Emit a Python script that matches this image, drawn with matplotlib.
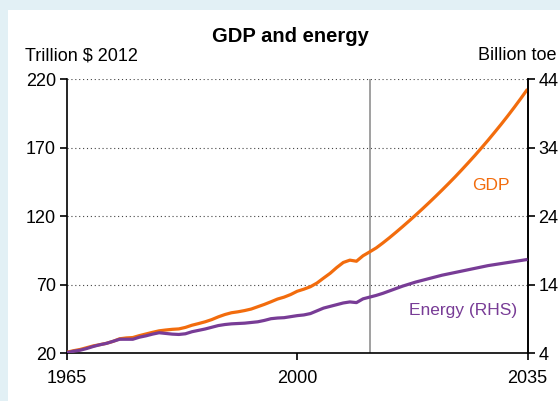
import matplotlib
matplotlib.use("Agg")
import matplotlib.pyplot as plt
from matplotlib.patches import Rectangle

plt.rcParams['font.family'] = ['Liberation Sans', 'DejaVu Sans']

# historical + projection, one value per year
years = list(range(1965, 2036))
gdp = [20.8, 21.9, 22.8, 24.1, 25.4, 26.3, 27.3, 28.7, 30.6, 31.2,
       31.5, 32.9, 34.1, 35.3, 36.4, 37.0, 37.5, 37.8, 38.9, 40.5,
       41.7, 43.0, 44.6, 46.6, 48.3, 49.6, 50.3, 51.2, 52.3, 54.0,
       55.7, 57.6, 59.6, 61.0, 62.9, 65.3, 66.8, 68.6, 71.3, 74.9,
       78.4, 82.6, 86.3, 88.0, 87.2, 91.2, 94.0, 96.9, 100.5, 104.3,
       108.3, 112.4, 116.6, 120.9, 125.3, 129.8, 134.4, 139.1, 143.9, 148.8,
       153.9, 159.1, 164.4, 169.9, 175.5, 181.3, 187.2, 193.3, 199.6, 206.1,
       212.8]
energy = [4.1, 4.3, 4.45, 4.7, 5.0, 5.25, 5.45, 5.75, 6.05, 6.05,
          6.05, 6.35, 6.55, 6.8, 7.0, 6.9, 6.8, 6.75, 6.85, 7.15,
          7.35, 7.55, 7.8, 8.05, 8.2, 8.3, 8.35, 8.4, 8.5, 8.6,
          8.8, 9.05, 9.15, 9.2, 9.35, 9.5, 9.6, 9.8, 10.2, 10.6,
          10.85, 11.1, 11.35, 11.5, 11.4, 11.95, 12.2, 12.45, 12.75, 13.1,
          13.45, 13.8, 14.1, 14.4, 14.65, 14.9, 15.15, 15.4, 15.6, 15.8,
          16.0, 16.2, 16.4, 16.6, 16.8, 16.95, 17.1, 17.25, 17.4, 17.55,
          17.7]
base_year = 2011
left_ticks = [20, 70, 120, 170, 220]
right_ticks = [4, 14, 24, 34, 44]
x_ticks = [1965, 2000, 2035]

orange = '#f26c0d'
purple = '#783c96'

fig = plt.figure(figsize=(5.6, 4.01), dpi=100, facecolor='#e2f0f5')
fig.patches.append(Rectangle((8 / 560, 0), 1, 391 / 401, transform=fig.transFigure,
                             facecolor='white', edgecolor='none', zorder=-5))

ax = fig.add_axes([67 / 560, 1 - 353.3 / 401, 460.5 / 560, 274 / 401])
ax.set_facecolor('none')
ax2 = ax.twinx()

ax.set_xlim(1965, 2035)
ax.set_ylim(20, 220)
ax2.set_ylim(4, 44)

for t in left_ticks[1:]:
    ax.axhline(t, color='#444444', lw=0.8, ls=(0, (1, 2.5)), zorder=1)
ax.axvline(base_year, color='#999999', lw=1.3, zorder=1)

ax.plot(years, gdp, color=orange, lw=2.3, zorder=3, solid_capstyle='butt')
ax2.plot(years, energy, color=purple, lw=2.3, zorder=3, solid_capstyle='butt')

ax.set_xticks(x_ticks)
ax.set_yticks(left_ticks)
ax2.set_yticks(right_ticks)
for a in (ax, ax2):
    a.spines['top'].set_visible(False)
    for s in a.spines.values():
        s.set_linewidth(1.2)
    a.tick_params(labelsize=13, length=5, width=1.2, pad=3)
ax2.spines['left'].set_visible(False)
ax2.spines['bottom'].set_visible(False)
ax.tick_params(axis='x', pad=7)

ax.text(2029.4, 142.5, 'GDP', color=orange, fontsize=12.5, ha='center', va='center')
ax.text(2025.2, 51.6, 'Energy (RHS)', color=purple, fontsize=12.5, ha='center', va='center')

fig.text(290.5 / 560, 1 - 36 / 401, 'GDP and energy', fontsize=14.5, fontweight='bold',
         ha='center', va='center')
fig.text(25 / 560, 1 - 60 / 401, 'Trillion $ 2012', fontsize=13, ha='left', va='baseline')
fig.text(557 / 560, 1 - 60 / 401, 'Billion toe', fontsize=13, ha='right', va='baseline')

fig.savefig('out.png', dpi=100, facecolor=fig.get_facecolor())
